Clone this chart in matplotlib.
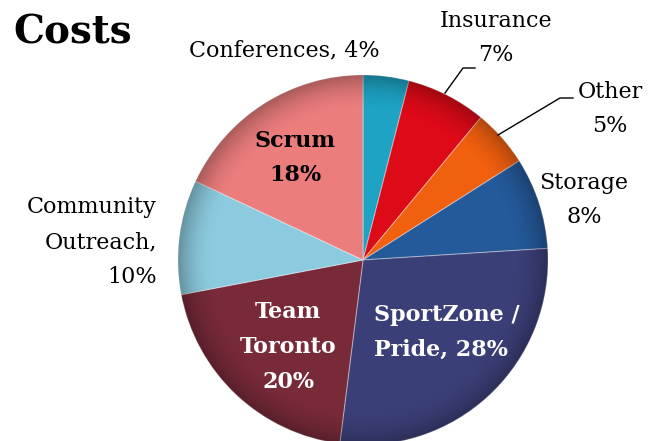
import matplotlib.pyplot as plt
import numpy as np
from matplotlib.patches import Circle

# data
categories = ['Conferences', 'Insurance', 'Other', 'Storage',
              'SportZone / Pride', 'Team Toronto', 'Community Outreach', 'Scrum']
shares = [4, 7, 5, 8, 28, 20, 10, 18]
colors = ['#1ea3c4', '#dd0a18', '#f1600f', '#24599a',
          '#3b3f77', '#782a39', '#8ccbdf', '#ec7d7d']
label_texts = ['Conferences, 4%', 'Insurance\n7%', 'Other\n5%', 'Storage\n8%',
               'SportZone /\nPride, 28%', 'Team\nToronto\n20%',
               'Community\nOutreach,\n10%', 'Scrum\n18%']

W, H = 657, 441
fig = plt.figure(figsize=(W / 100, H / 100), dpi=100)
ax = fig.add_axes([0, 0, 1, 1])

cx, cy, r = 363, H - 260, 185

wedges, _ = ax.pie(shares, colors=colors, startangle=90, counterclock=False,
                   center=(cx, cy), radius=r, frame=True,
                   wedgeprops=dict(edgecolor=(1, 1, 1, 0.35), linewidth=0.8))

# soft darkening toward the rim, gives a little of the bevelled look
yy, xx = np.mgrid[0:H, 0:W]
d = np.hypot(xx - cx, (H - yy) - cy) / r
shade = np.zeros((H, W, 4))
shade[..., 3] = np.clip((d - 0.8) / 0.2, 0, 1) ** 2 * 0.28
img = ax.imshow(shade, extent=(0, W, 0, H), origin='upper', zorder=3)
img.set_clip_path(Circle((cx, cy), r, transform=ax.transData))

ax.set_xlim(0, W)
ax.set_ylim(0, H)
ax.set_aspect('equal')
ax.axis('off')

font = 'DejaVu Serif'
fs = 16

# label positions in pixel coords (x, y from top), ha, bold, colour
lab = {
    0: (284, 50, 'center', False, 'black'),
    1: (496, 38, 'center', False, 'black'),
    2: (610, 109, 'center', False, 'black'),
    3: (584, 200, 'center', False, 'black'),
    4: (374, 332, 'left', True, 'white'),
    5: (288, 347, 'center', True, 'white'),
    6: (157, 242, 'right', False, 'black'),
    7: (295, 158, 'center', True, 'black'),
}
for i, txt in enumerate(label_texts):
    x, y, ha, bold, col = lab[i]
    ax.text(x, H - y, txt, ha=ha, va='center', multialignment=ha,
            fontsize=fs, family=font, color=col, zorder=5,
            fontweight='bold' if bold else 'normal', linespacing=1.75)

# leader lines
ax.plot([445, 463, 475], [H - 93, H - 68, H - 68], color='black', lw=1, zorder=5)
ax.plot([498, 560, 573], [H - 135, H - 98, H - 98], color='black', lw=1, zorder=5)

ax.text(13, H - 32, 'Costs', ha='left', va='center', fontsize=28,
        family=font, fontweight='bold', color='black')

fig.savefig('out.png', dpi=100)
